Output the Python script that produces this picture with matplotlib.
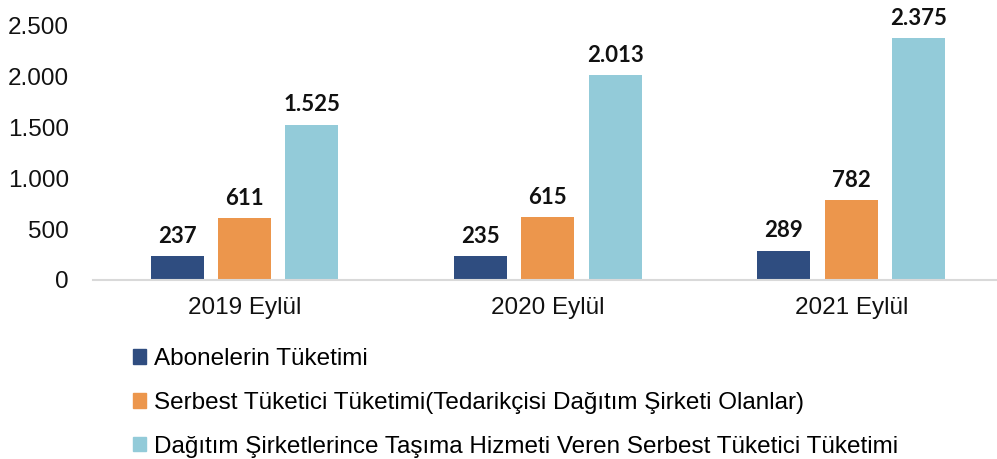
import numpy as np
import matplotlib.pyplot as plt
from matplotlib.patches import Patch

plt.rcParams['font.family'] = ['Liberation Sans', 'DejaVu Sans']

years = ['2019 Eylül', '2020 Eylül', '2021 Eylül']
abone = [237, 235, 289]
serbest_ted = [611, 615, 782]
serbest_tas = [1525, 2013, 2375]
series_names = ['Abonelerin Tüketimi',
                'Serbest Tüketici Tüketimi(Tedarikçisi Dağıtım Şirketi Olanlar)',
                'Dağıtım Şirketlerince Taşıma Hizmeti Veren Serbest Tüketici Tüketimi']
colors = ['#2F4D80', '#EC964C', '#93CBD9']

def fmt(v):
    return f'{v:,}'.replace(',', '.')

fig = plt.figure(figsize=(9.97, 4.59), dpi=100)
# axes runs a little past the right edge, like the original chart
ax = fig.add_axes([0.093, 0.39, 0.913, 0.555])

x = np.arange(len(years))
w = 0.175
step = 0.222
for i, (vals, c) in enumerate(zip([abone, serbest_ted, serbest_tas], colors)):
    pos = x + (i - 1) * step
    ax.bar(pos, vals, width=w, color=c)
    for p, v in zip(pos, vals):
        ax.text(p, v + 90, fmt(v), ha='center', va='bottom', fontsize=16,
                fontweight='bold', family=['Lato', 'DejaVu Sans'], color='#111111')

ax.set_xlim(-0.5, 2.5)
ax.set_ylim(0, 2500)
ax.set_yticks([0, 500, 1000, 1500, 2000, 2500])
ax.set_yticklabels([fmt(v) for v in [0, 500, 1000, 1500, 2000, 2500]])
ax.set_xticks(x)
ax.set_xticklabels(years)
ax.tick_params(axis='both', length=0, labelsize=17.5, colors='#111111')
ax.tick_params(axis='y', pad=17)
ax.tick_params(axis='x', pad=12)
for s in ['top', 'right', 'left']:
    ax.spines[s].set_visible(False)
ax.spines['bottom'].set_color('#D9D9D9')
ax.spines['bottom'].set_linewidth(1.5)

handles = [Patch(color=c) for c in colors]
fig.legend(handles, series_names, loc='upper left', bbox_to_anchor=(0.133, 0.242),
           frameon=False, fontsize=17.5, handlelength=0.55, handleheight=0.55,
           handletextpad=0.35, labelspacing=0.9, borderpad=0, borderaxespad=0)

fig.savefig('out.png', dpi=100)
